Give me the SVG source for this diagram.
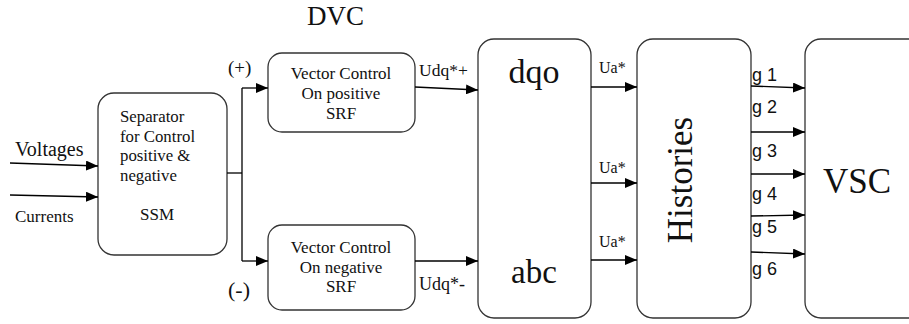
<svg xmlns="http://www.w3.org/2000/svg" width="909" height="324" viewBox="0 0 909 324">
<style>
.box{fill:#fff;stroke:#333;stroke-width:1.3}
.ln{fill:none;stroke:#000;stroke-width:1.3}
text{fill:#111}
.t{font-family:"Liberation Serif","Times New Roman",serif}
.g{font-family:"Liberation Sans",sans-serif;font-size:18px}
</style>
<defs>
<marker id="ah" markerWidth="12" markerHeight="10" refX="12" refY="5" orient="auto" markerUnits="userSpaceOnUse">
<path d="M0,0 L12,5 L0,10 Z" fill="#000"/>
</marker>
</defs>
<rect width="909" height="324" fill="#fff"/>
<text class="t" x="307" y="25" font-size="27">DVC</text>
<g id="ssm">
<rect class="box" x="98" y="93" width="129" height="162" rx="16"/>
<text class="t" font-size="16.8" x="120" y="122">Separator</text>
<text class="t" font-size="16.8" x="120" y="142">for Control</text>
<text class="t" font-size="16.8" x="120" y="161">positive &amp;</text>
<text class="t" font-size="16.8" x="120" y="181">negative</text>
<text class="t" font-size="17" x="140" y="220">SSM</text>
</g>
<g id="vcpos">
<rect class="box" x="268" y="53" width="147" height="79" rx="14"/>
<text class="t" font-size="17" x="341" y="79" text-anchor="middle">Vector Control</text>
<text class="t" font-size="17" x="341" y="99" text-anchor="middle">On positive</text>
<text class="t" font-size="17" x="341" y="119" text-anchor="middle">SRF</text>
</g>
<g id="vcneg">
<rect class="box" x="268" y="225" width="147" height="85" rx="14"/>
<text class="t" font-size="17" x="341" y="253" text-anchor="middle">Vector Control</text>
<text class="t" font-size="17" x="341" y="273" text-anchor="middle">On negative</text>
<text class="t" font-size="17" x="341" y="292" text-anchor="middle">SRF</text>
</g>
<g id="dqo">
<rect class="box" x="478" y="39" width="113" height="279" rx="16"/>
<text class="t" font-size="34" x="534" y="83" text-anchor="middle">dqo</text>
<text class="t" font-size="33" x="534" y="283" text-anchor="middle">abc</text>
</g>
<g id="hist">
<rect class="box" x="637" y="39" width="114" height="279" rx="16"/>
<text class="t" font-size="35" transform="translate(692,180) rotate(-90)" text-anchor="middle">Histories</text>
</g>
<g id="vsc">
<rect class="box" x="805" y="39" width="130" height="279" rx="16"/>
<text class="t" font-size="35" x="857" y="193" text-anchor="middle">VSC</text>
</g>
<g id="connectors">
<path class="ln" d="M10,163 L98,166" marker-end="url(#ah)"/>
<path class="ln" d="M10,195 L98,197" marker-end="url(#ah)"/>
<path class="ln" d="M227,173 L242,173"/>
<path class="ln" d="M242,88 L242,261"/>
<path class="ln" d="M242,88 L268,88" marker-end="url(#ah)"/>
<path class="ln" d="M242,261 L268,261" marker-end="url(#ah)"/>
<path class="ln" d="M415,87 L478,90" marker-end="url(#ah)"/>
<path class="ln" d="M415,261 L478,261" marker-end="url(#ah)"/>
<path class="ln" d="M591,87 L637,87" marker-end="url(#ah)"/>
<path class="ln" d="M591,183 L637,183" marker-end="url(#ah)"/>
<path class="ln" d="M591,260 L637,260" marker-end="url(#ah)"/>
<path class="ln" d="M751,86 L805,88" marker-end="url(#ah)"/>
<path class="ln" d="M751,132 L805,132" marker-end="url(#ah)"/>
<path class="ln" d="M751,174 L805,174" marker-end="url(#ah)"/>
<path class="ln" d="M751,216 L805,215" marker-end="url(#ah)"/>
<path class="ln" d="M751,252 L805,254" marker-end="url(#ah)"/>
</g>
<g id="labels">
<text class="t" font-size="20" x="15" y="156">Voltages</text>
<text class="t" font-size="17" x="15" y="222">Currents</text>
<text class="t" font-size="19" x="228" y="74">(+)</text>
<text class="t" font-size="22" x="228" y="297">(-)</text>
<text class="t" font-size="17.5" x="419" y="76">Udq*+</text>
<text class="t" font-size="18" x="419" y="290">Udq*-</text>
<text class="t" font-size="16" x="599" y="73">Ua*</text>
<text class="t" font-size="16" x="599" y="173">Ua*</text>
<text class="t" font-size="16" x="599" y="247">Ua*</text>
<text class="g" x="752" y="81">g 1</text>
<text class="g" x="752" y="113">g 2</text>
<text class="g" x="752" y="157">g 3</text>
<text class="g" x="752" y="200">g 4</text>
<text class="g" x="752" y="233">g 5</text>
<text class="g" x="752" y="275">g 6</text>
</g>
</svg>
